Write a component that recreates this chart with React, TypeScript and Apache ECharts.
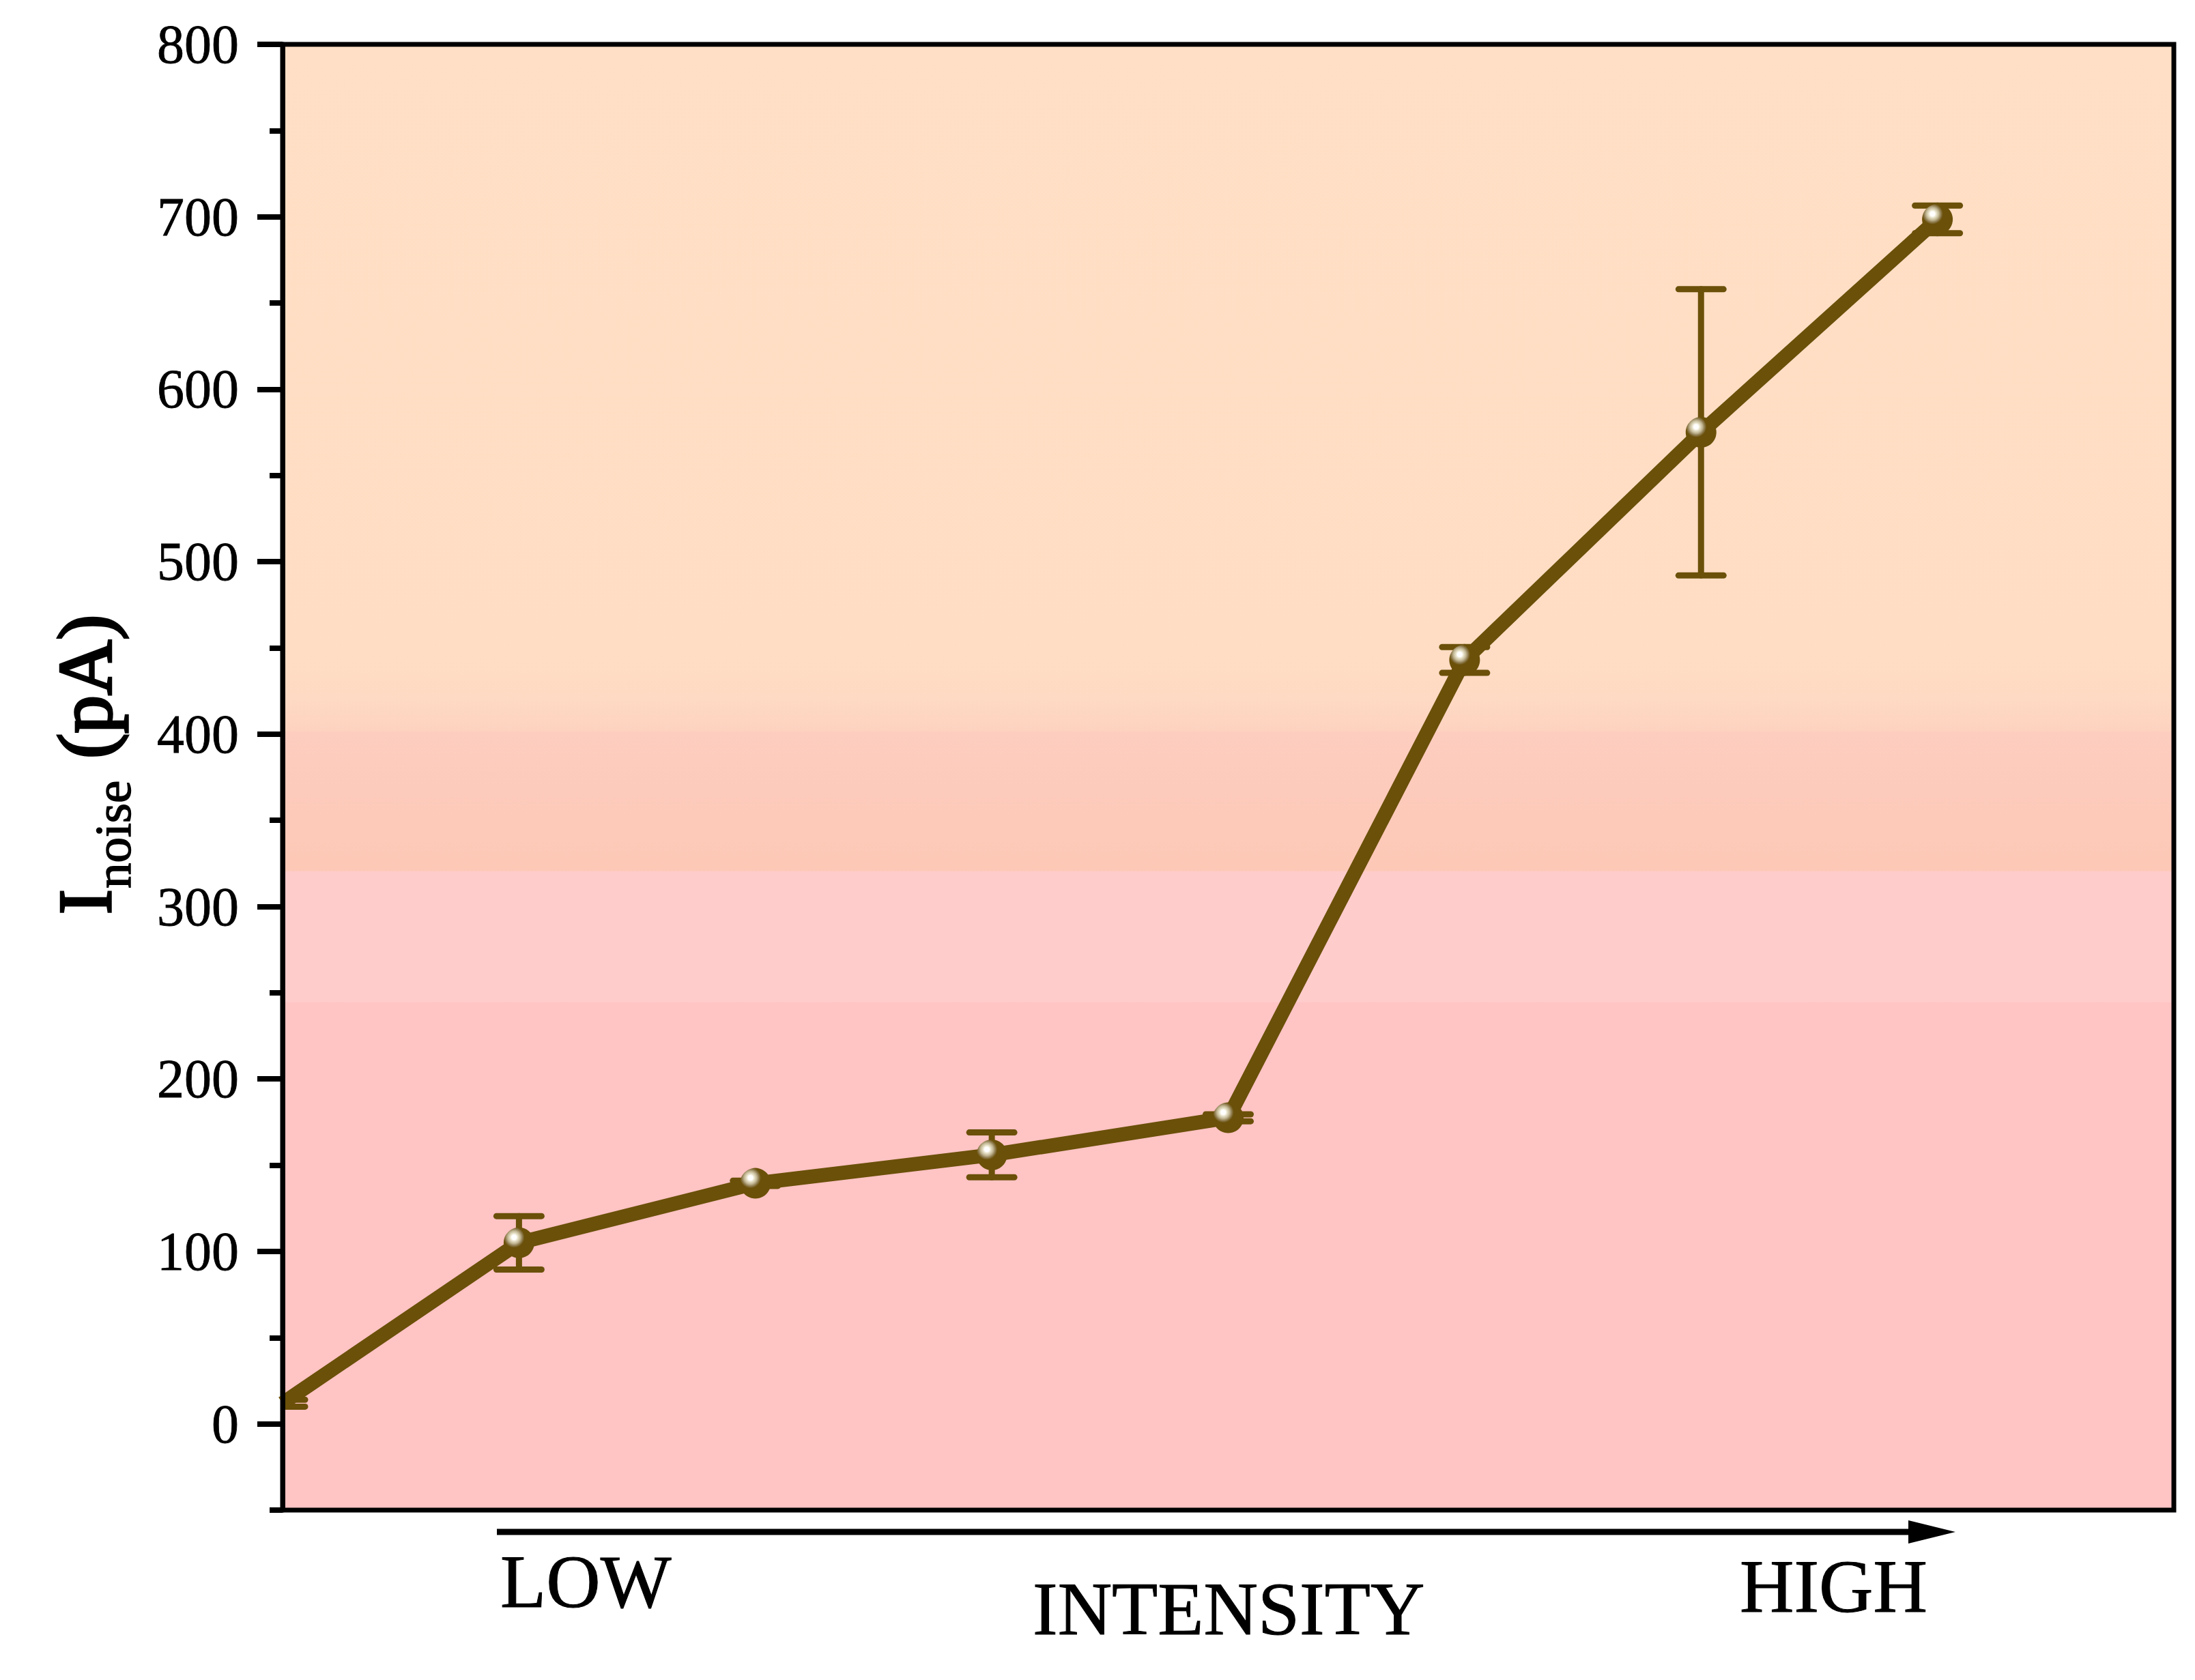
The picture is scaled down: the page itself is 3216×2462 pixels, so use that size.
import React, { useEffect, useRef } from "react";
import * as echarts from "echarts";

// ---- data ----
const STEP_INDEX = [0, 1, 2, 3, 4, 5, 6, 7];
const NOISE_PA = [12, 105, 139.5, 156, 177.5, 443, 575, 698.5];
const NOISE_ERR = [2, 15.5, 1.5, 13, 2, 7.5, 83, 8];
const Y_MAJOR_TICKS = [0, 100, 200, 300, 400, 500, 600, 700, 800];
const Y_MINOR_TICKS = [-50, 50, 150, 250, 350, 450, 550, 650, 750];
const INTENSITY_WORDS = ["LOW", "INTENSITY", "HIGH"];
const Y_TITLE_MAIN = "I";
const Y_TITLE_SUB = "noise";
const Y_TITLE_UNIT = "(pA)";

const LINE_COLOR = "#6A5009";
const FONT = "'Liberation Serif', 'Times New Roman', serif";

export default function App() {
  const ref = useRef<HTMLDivElement>(null);

  useEffect(() => {
    if (!ref.current) return;
    const chart = echarts.init(ref.current, undefined, { renderer: "svg" });

    const f = (v: number) => (800 - v) / 850;
    const bg = new echarts.graphic.LinearGradient(0, 0, 0, 1, [
      { offset: 0, color: "#FFDFC5" },
      { offset: f(445), color: "#FFDDC4" },
      { offset: f(420), color: "#FED9C3" },
      { offset: f(402), color: "#FDD3C0" },
      { offset: f(401), color: "#FDCDBF" },
      { offset: f(321), color: "#FDC8B6" },
      { offset: f(320), color: "#FFCCCC" },
      { offset: f(245), color: "#FFCCCC" },
      { offset: f(244), color: "#FFC4C4" },
      { offset: 1, color: "#FFC4C4" },
    ]);

    const lineData = STEP_INDEX.map((x, i) =>
      i === 0
        ? { value: [x, NOISE_PA[i]], symbol: "none" }
        : { value: [x, NOISE_PA[i]] }
    );
    const errData = STEP_INDEX.map((x, i) => [
      x,
      NOISE_PA[i] - NOISE_ERR[i],
      NOISE_PA[i] + NOISE_ERR[i],
    ]);

    const textStyle = (size: number, heavy: number) => ({
      fontSize: size,
      fontFamily: FONT,
      fontWeight: "normal",
      fill: "#000",
      stroke: "#000",
      lineWidth: heavy,
      align: "left",
      verticalAlign: "middle",
    });

    const wordPos = [
      [733, 2318],
      [1513, 2358],
      [2549, 2325],
    ];

    chart.setOption({
      animation: false,
      backgroundColor: "#ffffff",
      grid: {
        left: 414,
        top: 65,
        width: 2771,
        height: 2148,
        show: true,
        backgroundColor: bg,
        borderColor: "#000",
        borderWidth: 7,
      },
      xAxis: {
        type: "value",
        min: 0,
        max: 8,
        show: false,
      },
      yAxis: [
        {
          type: "value",
          min: -50,
          max: 800,
          position: "left",
          z: 10,
          splitLine: { show: false },
          axisLine: { show: true, lineStyle: { color: "#000", width: 7 } },
          axisTick: {
            show: true,
            customValues: Y_MAJOR_TICKS,
            length: 37,
            lineStyle: { color: "#000", width: 8 },
          },
          axisLabel: {
            customValues: Y_MAJOR_TICKS,
            margin: 64,
            fontSize: 80,
            fontFamily: FONT,
            color: "#000",
            textBorderColor: "#000",
            textBorderWidth: 0.8,
          },
        },
        {
          type: "value",
          min: -50,
          max: 800,
          position: "left",
          z: 10,
          splitLine: { show: false },
          axisLine: { show: false },
          axisTick: {
            show: true,
            customValues: Y_MINOR_TICKS,
            length: 19,
            lineStyle: { color: "#000", width: 8 },
          },
          axisLabel: { show: false },
        },
      ],
      series: [
        {
          type: "custom",
          name: "error",
          clip: true,
          z: 2,
          data: errData,
          encode: { x: 0, y: [1, 2] },
          renderItem: (params: any, api: any) => {
            const x = api.value(0);
            const lo = api.coord([x, api.value(1)]);
            const hi = api.coord([x, api.value(2)]);
            const half = 33;
            const style = {
              stroke: LINE_COLOR,
              lineWidth: 9,
              lineCap: "round",
            };
            return {
              type: "group",
              children: [
                {
                  type: "line",
                  shape: { x1: hi[0], y1: hi[1], x2: lo[0], y2: lo[1] },
                  style,
                },
                {
                  type: "line",
                  shape: { x1: hi[0] - half, y1: hi[1], x2: hi[0] + half, y2: hi[1] },
                  style,
                },
                {
                  type: "line",
                  shape: { x1: lo[0] - half, y1: lo[1], x2: lo[0] + half, y2: lo[1] },
                  style,
                },
              ],
            };
          },
        },
        {
          type: "line",
          name: "Inoise",
          z: 3,
          data: lineData,
          symbol: "circle",
          symbolSize: 45,
          showSymbol: true,
          lineStyle: { color: LINE_COLOR, width: 21 },
          itemStyle: {
            color: {
              type: "radial",
              x: 0.34,
              y: 0.32,
              r: 0.34,
              colorStops: [
                { offset: 0, color: "#ffffff" },
                { offset: 0.22, color: "#ffffff" },
                { offset: 0.35, color: "#ebe6cf" },
                { offset: 0.6, color: "#c2b794" },
                { offset: 0.8, color: "#917e52" },
                { offset: 1, color: LINE_COLOR },
              ],
            },
            borderWidth: 0,
          },
        },
      ],
      graphic: [
        {
          type: "group",
          x: 125,
          y: 1338,
          rotation: Math.PI / 2,
          children: [
            { type: "text", x: -2, y: 0, style: { text: Y_TITLE_MAIN, ...textStyle(110, 3.5) } },
            { type: "text", x: 36, y: 40, style: { text: Y_TITLE_SUB, ...textStyle(75, 1.5) } },
            { type: "text", x: 226, y: 0, style: { text: Y_TITLE_UNIT, ...textStyle(112, 3.5) } },
          ],
        },
        {
          type: "line",
          shape: { x1: 728, y1: 2245, x2: 2800, y2: 2245 },
          style: { stroke: "#000", lineWidth: 9 },
        },
        {
          type: "polygon",
          shape: { points: [[2796, 2228], [2865, 2245], [2796, 2262]] },
          style: { fill: "#000" },
        },
        ...INTENSITY_WORDS.map((w, i) => ({
          type: "text",
          x: wordPos[i][0],
          y: wordPos[i][1],
          style: { text: w, ...textStyle(110, 1) },
        })),
      ],
    });

    return () => chart.dispose();
  }, []);

  return (
    <div
      ref={ref}
      style={{
        position: "fixed",
        left: 0,
        top: 0,
        width: 3216,
        height: 2462,
        background: "#fff",
      }}
    />
  );
}
